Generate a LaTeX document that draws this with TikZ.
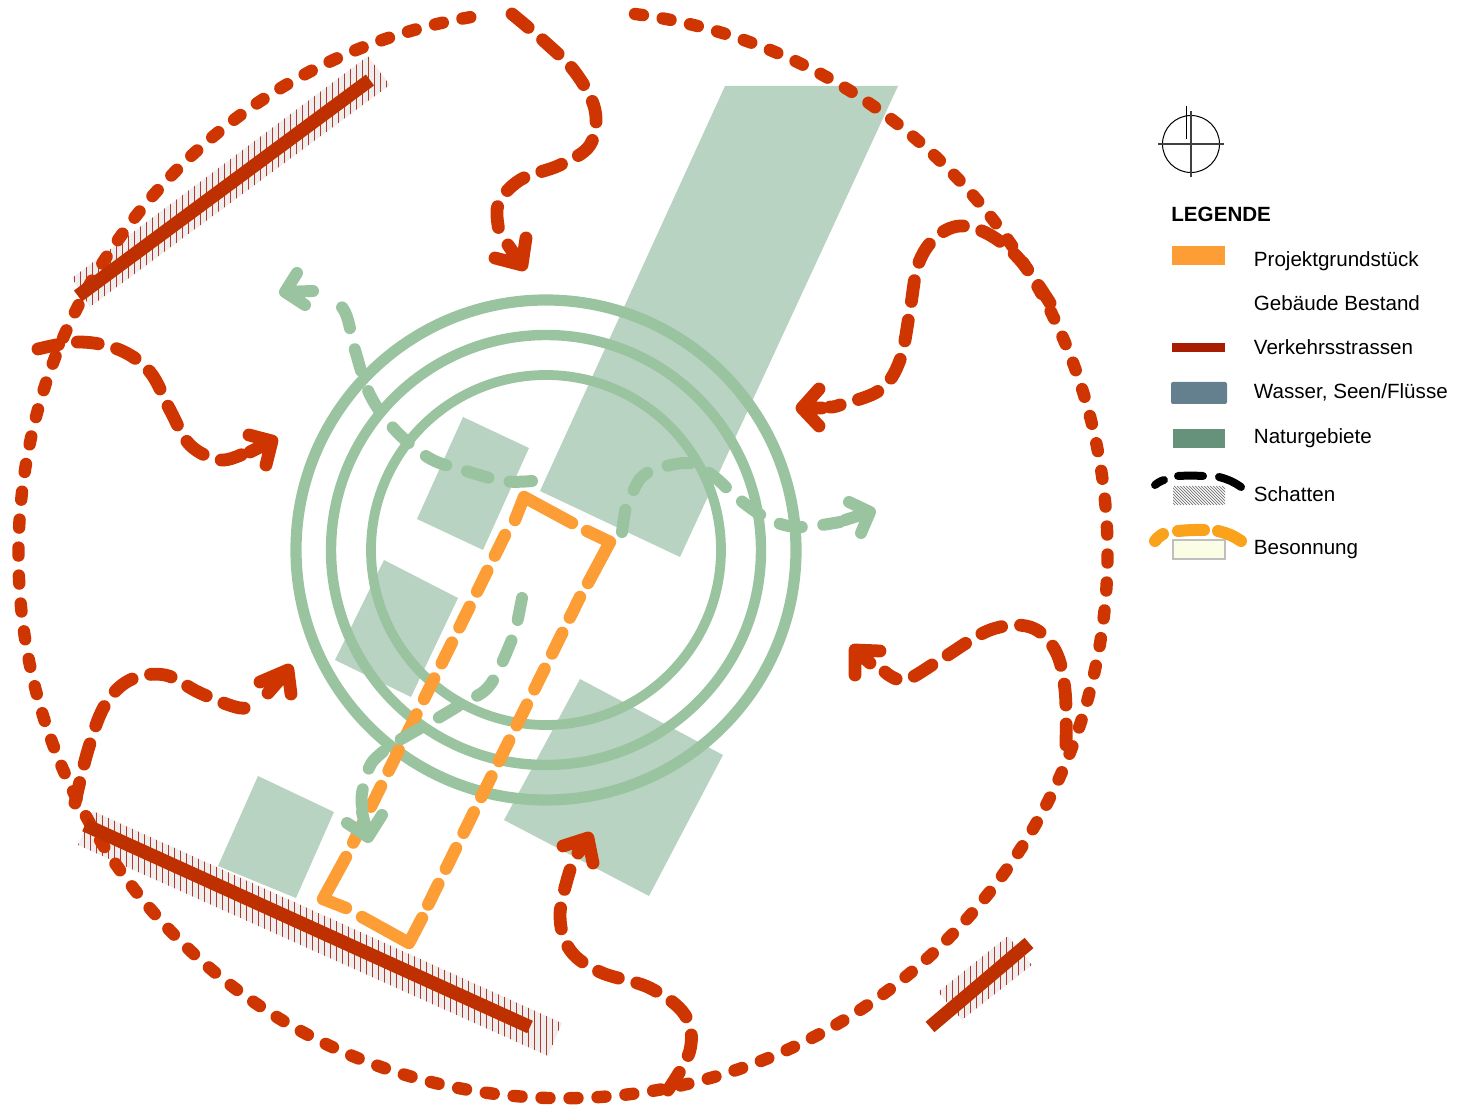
\documentclass[tikz,border=0pt]{standalone}
\usepackage{fontspec}
\setmainfont{Liberation Sans}
\usepackage{xcolor}

\definecolor{natur}{HTML}{B9D3C3}
\definecolor{naturline}{HTML}{9AC4A0}
\definecolor{orangeplot}{HTML}{FD9D35}
\definecolor{redarrow}{HTML}{CE3500}
\definecolor{roadred}{HTML}{BF3000}
\definecolor{hatchred}{HTML}{B23A28}
\definecolor{hatchbg}{HTML}{EFEDED}

\tikzset{
	legendtext/.style={anchor=base west, inner sep=0pt, font=\fontsize{10.3pt}{12pt}\selectfont},
	ringline/.style={draw=naturline},
	bigcircle/.style={draw=redarrow, line width=6.2pt, line cap=round, dash pattern=on 4pt off 10pt},
	road/.style={draw=roadred, line width=6.8pt},
	hatchline/.style={draw=hatchred, line width=0.5pt},
	plotcorner/.style={draw=orangeplot, line width=6.2pt, line cap=round, line join=round},
	plotedge/.style={draw=orangeplot, line width=6.2pt, line cap=round, dash pattern=on 11.5pt off 8.5pt},
	redpath/.style={draw=redarrow, line width=6.4pt, line cap=round, dash pattern=on 10.5pt off 9.5pt},
	redhead/.style={draw=redarrow, line width=6.4pt, line cap=round, line join=round},
	greenpath/.style={draw=naturline, line width=6pt, line cap=round, dash pattern=on 11.2pt off 10.8pt},
	greenhead/.style={draw=naturline, line width=6pt, line cap=round, line join=round},
}

\begin{document}
\begin{tikzpicture}[x=0.5pt, y=-0.5pt]
	\useasboundingbox (0,0) rectangle (1458,1107);

	% Naturgebiete
	\fill[natur] (725,86) -- (898,86) -- (680,557) -- (540,491) -- cycle;
	\fill[natur] (463,417) -- (529,448) -- (483,550) -- (417,519) -- cycle;
	\fill[natur] (384,560) -- (458,598) -- (411,697) -- (335,660) -- cycle;
	\fill[natur] (580,679) -- (723,755) -- (649,896) -- (504,820) -- cycle;
	\fill[natur] (258,776) -- (334,812) -- (296,898) -- (218,866) -- cycle;

	% Schraffur Strassen
	\begin{scope}
		\clip (72,278) -- (368,56) -- (390,85) -- (90,307) -- cycle;
		\fill[hatchbg] (60,50) rectangle (400,310);
		\foreach \x in {74.5,80.5,...,392} \draw[hatchline] (\x,50) -- (\x,310);
	\end{scope}
	\begin{scope}
		\clip (93,811) -- (562,1023) -- (548,1056) -- (78,845) -- cycle;
		\fill[hatchbg] (70,800) rectangle (570,1060);
		\foreach \x in {78.5,84.5,...,564} \draw[hatchline] (\x,800) -- (\x,1060);
	\end{scope}
	\begin{scope}
		\clip (1008,936) -- (1032,965) -- (962,1020) -- (938,992) -- cycle;
		\fill[hatchbg] (930,930) rectangle (1040,1025);
		\foreach \x in {940.5,946.5,...,1034} \draw[hatchline] (\x,930) -- (\x,1025);
	\end{scope}

	% Grosser Kreis
	\draw[bigcircle] (635,14) arc[start angle=-82.4, end angle=261.3, radius=544.5];

	% Verkehrsstrassen
	\draw[road] (370,80) -- (78,296);
	\draw[road] (85,825) -- (530,1027);
	\draw[road] (1029,943) -- (930,1027);

	% Ringe
	\draw[ringline, line width=5.6pt] (546,550) circle[radius=250];
	\draw[ringline, line width=5.2pt] (546,550) circle[radius=215];
	\draw[ringline, line width=4.9pt] (546,550) circle[radius=175];

	% Projektgrundstueck
	\draw[plotcorner] (515,520) -- (524,497) -- (572,523);
	\draw[plotcorner] (587,531) -- (610,542) -- (588,583);
	\draw[plotcorner] (422,918) -- (409,943) -- (362,917);
	\draw[plotcorner] (346,857) -- (323,899) -- (346,908);
	\draw[plotedge] (505,535) -- (352,845);
	\draw[plotedge] (580,597) -- (427,907);

	% Pfeile gruen
	\draw[greenpath] plot[smooth, tension=0.6] coordinates {(532,481) (503,481) (463,470) (429,458) (395,430) (370,395) (355,350) (345,312) (327,293)};
	\draw[greenhead] (297,273) -- (285,292) -- (305,305) (285,292) -- (313,291);
	\draw[greenpath] plot[smooth, tension=0.6] coordinates {(622,532) (626,507) (632,493) (647,473) (687,463) (712,475) (740,500) (770,520) (800,527) (840,522)};
	\draw[greenhead] (849,502) -- (870,512) -- (861,533) (870,512) -- (845,520);
	\draw[greenpath] plot[smooth, tension=0.6] coordinates {(522,598) (517,623) (513,637) (490,685) (463,703) (433,721) (398,741) (378,756) (369,768) (362,793) (362,807)};
	\draw[greenhead] (347,823) -- (368,837) -- (382,815) (368,837) -- (362,812);

	% Pfeile rot
	\draw[redpath] plot[smooth, tension=0.6] coordinates {(512,14) (545,42) (575,72) (595,110) (590,145) (560,165) (520,180) (498,205) (500,235)};
	\draw[redhead] (495,258) -- (522,265) -- (526,238) (522,265) -- (508,245);
	\draw[redpath] plot[smooth, tension=0.6] coordinates {(1050,303) (1020,260) (990,235) (960,226) (935,238) (918,265) (910,310) (900,360) (880,390) (840,405) (830,407)};
	\draw[redhead] (819,389) -- (802,408) -- (819,426) (802,408) -- (822,408);
	\draw[redpath] plot[smooth, tension=0.6] coordinates {(38,349) (80,342) (120,350) (150,372) (170,410) (190,445) (220,460) (245,453)};
	\draw[redhead] (249,435) -- (272,441) -- (266,465) (272,441) -- (250,452);
	\draw[redpath] plot[smooth, tension=0.6] coordinates {(75,803) (88,750) (105,705) (130,680) (165,675) (200,693) (240,708) (258,702)};
	\draw[redhead] (260,682) -- (288,670) -- (291,694) (288,670) -- (268,693);
	\draw[redpath] plot[smooth, tension=0.6] coordinates {(668,1090) (690,1050) (685,1015) (650,988) (600,972) (570,950) (560,915) (570,870)};
	\draw[redhead] (563,846) -- (588,838) -- (593,863) (588,838) -- (578,853);
	\draw[redpath] plot[smooth, tension=0.6] coordinates {(1066,745) (1065,690) (1055,650) (1030,627) (990,630) (940,660) (905,680) (885,672)};
	\draw[redhead] (855,675) -- (855,650) -- (880,651) (855,650) -- (870,663);

	% Nordpfeil
	\draw[line width=0.5pt] (1191,144) circle[radius=28.5];
	\draw[line width=0.6pt, draw=black!75] (1158,144) -- (1224,144);
	\draw[line width=0.6pt, draw=black!75] (1191,111) -- (1191,177);
	\draw[line width=0.5pt] (1186,106) -- (1186,139);

	% Legende
	\node[legendtext, font=\fontsize{10.3pt}{12pt}\selectfont\bfseries] (legende) at (1171,222) {LEGENDE};

	\fill[orangeplot] (1172,246) rectangle (1225,265);
	\node[legendtext] (projekt) at (1253.5,267) {Projektgrundstück};

	\node[legendtext] (gebaeude) at (1253.5,311) {Gebäude Bestand};

	\fill[fill={rgb,255:red,168;green,28;blue,0}] (1172,343) rectangle (1225,352);
	\node[legendtext] (strassen) at (1253.5,355) {Verkehrsstrassen};

	\fill[fill={rgb,255:red,100;green,128;blue,142}, rounded corners=1pt] (1171,382) rectangle (1227,404);
	\node[legendtext] (wasser) at (1253.5,399) {Wasser, Seen/Flüsse};

	\fill[fill={rgb,255:red,102;green,145;blue,122}] (1173,429) rectangle (1225,448);
	\node[legendtext] (natur) at (1253.5,444) {Naturgebiete};

	% Schatten
	\begin{scope}
		\clip (1173,486) rectangle (1225,505);
		\foreach \x in {1150,1153,...,1226} \draw[draw=black!55, line width=0.35pt] (\x,486) -- (\x+19,505);
	\end{scope}
	\draw[line width=4pt, line cap=round] (1155,485) to[bend left=10] (1164,480);
	\draw[line width=4pt, line cap=round] (1178,476) to[bend left=3] (1203,476);
	\draw[line width=4pt, line cap=round] (1219,477) to[bend left=10] (1241,487);
	\node[legendtext] (schatten) at (1253.5,502) {Schatten};

	% Besonnung
	\draw[draw=black!25, fill={rgb,255:red,251;green,253;blue,228}, line width=0.6pt] (1173,540) rectangle (1225,559);
	\draw[draw={rgb,255:red,250;green,162;blue,27}, line width=6pt, line cap=round] (1155,541) to[bend left=10] (1163,534);
	\draw[draw={rgb,255:red,250;green,162;blue,27}, line width=6pt, line cap=round] (1178,531) to[bend left=3] (1204,530);
	\draw[draw={rgb,255:red,250;green,162;blue,27}, line width=6pt, line cap=round] (1218,531) to[bend left=10] (1241,541);
	\node[legendtext] (besonnung) at (1253.5,554) {Besonnung};
\end{tikzpicture}
\end{document}
